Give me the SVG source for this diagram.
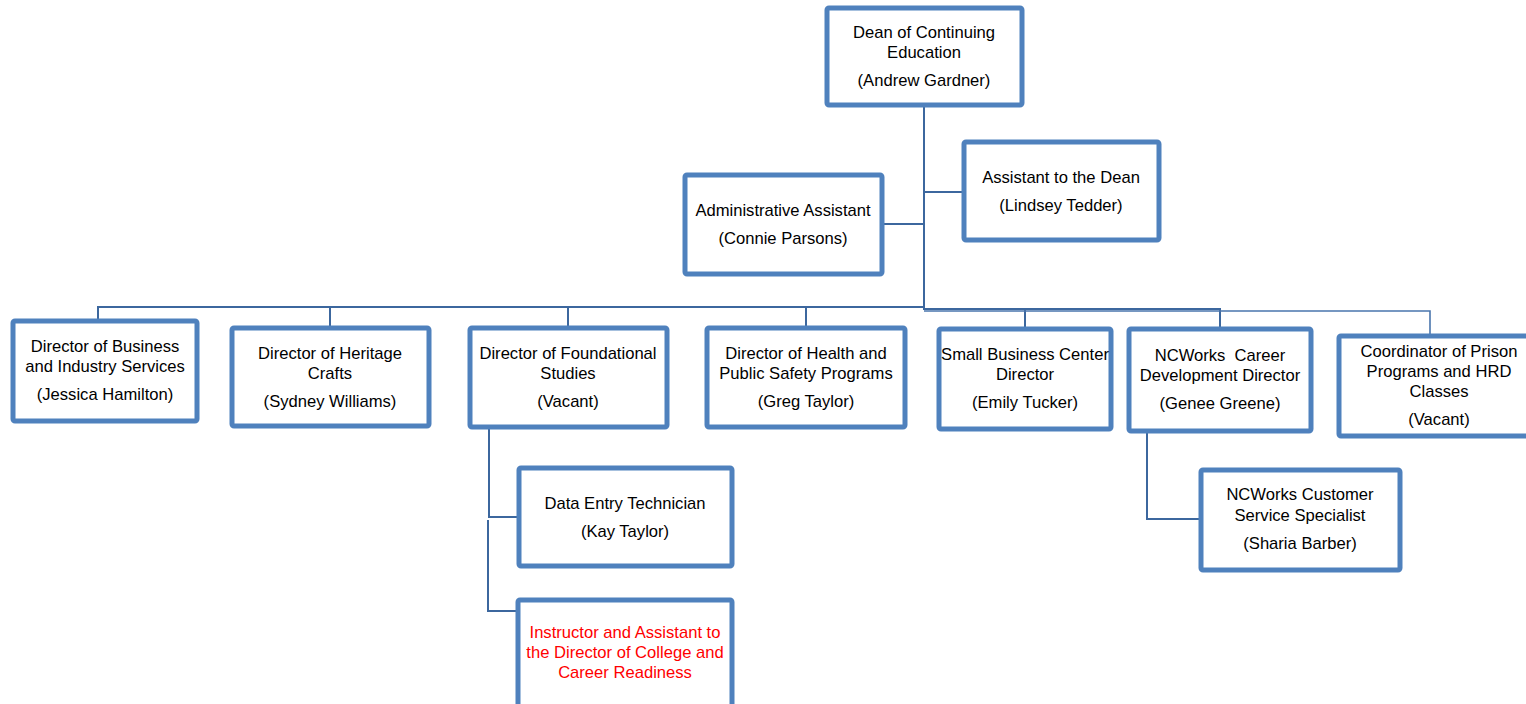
<svg xmlns="http://www.w3.org/2000/svg" width="1526" height="704" viewBox="0 0 1526 704">
<style>
.box{fill:#ffffff;stroke:#4f81bd;stroke-width:5;}
.ln{fill:none;stroke:#3c679e;stroke-width:2;}
.ln2{fill:none;stroke:#4a76ad;stroke-width:1.6;}
text{font-family:"Liberation Sans",Arial,sans-serif;font-size:16.6px;fill:#000000;text-anchor:middle;}
.red{fill:#ff0000;}
</style>
<rect width="1526" height="704" fill="#ffffff"/>
<g id="connectors">
<path class="ln" d="M924 106 V310"/>
<path class="ln" d="M882 224 H924"/>
<path class="ln" d="M924 192 H964"/>
<path class="ln" d="M98 321 V307 H924"/>
<path class="ln" d="M330 307 V327"/>
<path class="ln" d="M568 307 V326"/>
<path class="ln" d="M806 307 V326"/>
<path class="ln" d="M924 309 H1220 V327"/>
<path class="ln" d="M1025 309 V327"/>
<path class="ln2" d="M924 311 H1430 V334"/>
<path class="ln" d="M489 429 V517 H517"/>
<path class="ln" d="M488 520 V611 H516"/>
<path class="ln" d="M1147 433 V519 H1199"/>
</g>
<g id="dean">
<rect class="box" x="827" y="8" width="195" height="97" rx="2"/>
<text x="924" y="38">Dean of Continuing</text>
<text x="924" y="58">Education</text>
<text x="924" y="86">(Andrew Gardner)</text>
</g>
<g id="assistant-dean">
<rect class="box" x="964" y="142" width="195" height="98" rx="2"/>
<text x="1061" y="183">Assistant to the Dean</text>
<text x="1061" y="211">(Lindsey Tedder)</text>
</g>
<g id="admin-assistant">
<rect class="box" x="685" y="175" width="197" height="99" rx="2"/>
<text x="783" y="216">Administrative Assistant</text>
<text x="783" y="244">(Connie Parsons)</text>
</g>
<g id="business">
<rect class="box" x="13" y="321" width="184" height="100" rx="2"/>
<text x="105" y="352">Director of Business</text>
<text x="105" y="372">and Industry Services</text>
<text x="105" y="400">(Jessica Hamilton)</text>
</g>
<g id="heritage">
<rect class="box" x="232" y="328" width="197" height="98" rx="2"/>
<text x="330" y="359">Director of Heritage</text>
<text x="330" y="379">Crafts</text>
<text x="330" y="407">(Sydney Williams)</text>
</g>
<g id="foundational">
<rect class="box" x="470" y="328" width="197" height="99" rx="2"/>
<text x="568" y="359">Director of Foundational</text>
<text x="568" y="379">Studies</text>
<text x="568" y="407">(Vacant)</text>
</g>
<g id="health">
<rect class="box" x="707" y="328" width="198" height="99" rx="2"/>
<text x="806" y="359">Director of Health and</text>
<text x="806" y="379">Public Safety Programs</text>
<text x="806" y="407">(Greg Taylor)</text>
</g>
<g id="small-business">
<rect class="box" x="939" y="329" width="172" height="100" rx="2"/>
<text x="1025" y="360">Small Business Center</text>
<text x="1025" y="380">Director</text>
<text x="1025" y="408">(Emily Tucker)</text>
</g>
<g id="ncworks-career">
<rect class="box" x="1129" y="329" width="182" height="102" rx="2"/>
<text x="1220" y="361">NCWorks&#160; Career</text>
<text x="1220" y="381">Development Director</text>
<text x="1220" y="409">(Genee Greene)</text>
</g>
<g id="prison">
<rect class="box" x="1339" y="336" width="200" height="100" rx="2"/>
<text x="1439" y="357">Coordinator of Prison</text>
<text x="1439" y="377">Programs and HRD</text>
<text x="1439" y="397">Classes</text>
<text x="1439" y="425">(Vacant)</text>
</g>
<g id="ncworks-customer">
<rect class="box" x="1201" y="470" width="199" height="100" rx="2"/>
<text x="1300" y="500">NCWorks Customer</text>
<text x="1300" y="521">Service Specialist</text>
<text x="1300" y="549">(Sharia Barber)</text>
</g>
<g id="data-entry">
<rect class="box" x="519" y="468" width="213" height="98" rx="2"/>
<text x="625" y="509">Data Entry Technician</text>
<text x="625" y="537">(Kay Taylor)</text>
</g>
<g id="instructor">
<rect class="box" x="518" y="600" width="214" height="120" rx="2"/>
<text class="red" x="625" y="638">Instructor and Assistant to</text>
<text class="red" x="625" y="658">the Director of College and</text>
<text class="red" x="625" y="678">Career Readiness</text>
</g>
</svg>
